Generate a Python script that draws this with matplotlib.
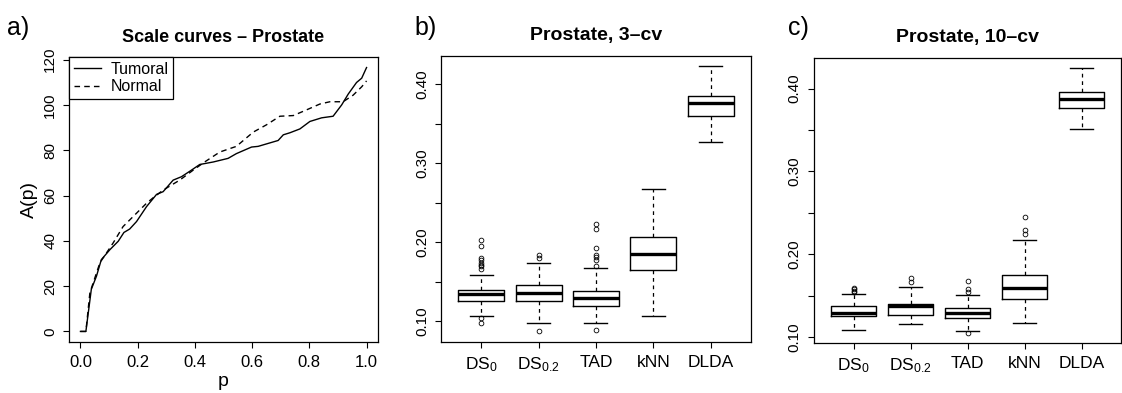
import matplotlib

matplotlib.use("Agg")
import matplotlib.pyplot as plt  # noqa: E402

plt.rcParams["font.family"] = ["Liberation Sans", "DejaVu Sans"]
plt.rcParams["mathtext.default"] = "regular"

# panel a: scale curves
tumoral_p = [0.0, 0.019, 0.038, 0.056, 0.073, 0.103, 0.132, 0.152, 0.172, 0.196,
             0.231, 0.266, 0.289, 0.324, 0.353, 0.382, 0.417, 0.464, 0.516, 0.545,
             0.598, 0.621, 0.691, 0.709, 0.732, 0.767, 0.802, 0.843, 0.883, 0.913,
             0.936, 0.965, 0.983, 1.0]
tumoral_a = [0, 0, 18.6, 24.4, 31.7, 36.1, 39.8, 43.7, 45.2, 48.5,
             55.1, 60.5, 61.7, 66.8, 68.3, 70.7, 73.7, 74.8, 76.4, 78.5,
             81.4, 81.7, 84.3, 86.8, 87.7, 89.4, 92.7, 94.3, 95.0, 100.0,
             104.8, 109.9, 111.8, 116.5]
normal_p = [0.0, 0.019, 0.033, 0.068, 0.114, 0.149, 0.196, 0.231, 0.254, 0.289,
            0.347, 0.394, 0.434, 0.487, 0.545, 0.604, 0.650, 0.697, 0.744, 0.790,
            0.837, 0.872, 0.918, 0.953, 0.983, 1.0]
normal_a = [0, 0, 17.1, 30.3, 39.0, 46.3, 52.2, 56.6, 59.0, 62.4,
            66.8, 71.2, 74.8, 79.2, 81.7, 88.0, 91.2, 95.0, 95.3, 97.8,
            100.4, 101.4, 101.4, 104.3, 108.0, 110.6]

methods = ["DS$_0$", "DS$_{0.2}$", "TAD", "kNN", "DLDA"]

# panel b: 3-cv error rates
b_q1 = [0.126, 0.126, 0.1202, 0.1648, 0.3596]
b_med = [0.1353, 0.1362, 0.130, 0.185, 0.3772]
b_q3 = [0.140, 0.1459, 0.1391, 0.2064, 0.3848]
b_lo = [0.1067, 0.0983, 0.0983, 0.1067, 0.3276]
b_hi = [0.1589, 0.174, 0.1673, 0.268, 0.423]
b_fliers = [
    [0.2035, 0.195, 0.180, 0.1774, 0.174, 0.172, 0.170, 0.1665, 0.1046, 0.0983],
    [0.1837, 0.180, 0.0878],
    [0.2237, 0.217, 0.193, 0.1846, 0.1816, 0.178, 0.170, 0.0886],
    [],
    [],
]

# panel c: 10-cv error rates
c_q1 = [0.1253, 0.1269, 0.1233, 0.1465, 0.3764]
c_med = [0.1289, 0.1373, 0.1285, 0.1594, 0.3872]
c_q3 = [0.1373, 0.1401, 0.1353, 0.1754, 0.3964]
c_lo = [0.1084, 0.1152, 0.1068, 0.1172, 0.3515]
c_hi = [0.1521, 0.1606, 0.1505, 0.2175, 0.4245]
c_fliers = [
    [0.1594, 0.1574, 0.1554, 0.1542],
    [0.1714, 0.1666],
    [0.1674, 0.1582, 0.1542, 0.1052],
    [0.2448, 0.2296, 0.2243],
    [],
]

box_ticks = [0.10, 0.15, 0.20, 0.25, 0.30, 0.35, 0.40]
box_ticklabels = ["0.10", "", "0.20", "", "0.30", "", "0.40"]


def r_range(lo, hi):
    # R-style 4% padding of the data range
    pad = 0.04 * (hi - lo)
    return lo - pad, hi + pad


def style_axes(ax):
    for sp in ax.spines.values():
        sp.set_linewidth(0.9)
    ax.tick_params(axis="both", direction="out", length=4.5, width=0.8,
                   labelsize=11, pad=4)
    ax.tick_params(axis="y", labelrotation=90, labelsize=11)
    for lab in ax.get_yticklabels():
        lab.set_va("center")


def draw_boxes(ax, q1, med, q3, lo, hi, fliers, title):
    stats = []
    for i in range(len(methods)):
        stats.append({"q1": q1[i], "med": med[i], "q3": q3[i],
                      "whislo": lo[i], "whishi": hi[i], "fliers": fliers[i]})
    ax.bxp(stats, positions=range(1, len(methods) + 1), widths=0.8,
           boxprops=dict(color="black", linewidth=1.0),
           medianprops=dict(color="black", linewidth=2.4),
           whiskerprops=dict(color="black", linewidth=0.9, linestyle=(0, (3, 3))),
           capprops=dict(color="black", linewidth=1.0),
           flierprops=dict(marker="o", markersize=3.4, markerfacecolor="none",
                           markeredgecolor="black", markeredgewidth=0.6))
    all_vals = lo + hi + [v for f in fliers for v in f]
    ax.set_ylim(*r_range(min(all_vals), max(all_vals)))
    ax.set_xlim(0.3, len(methods) + 0.7)
    ax.set_xticks(range(1, len(methods) + 1))
    ax.set_xticklabels(methods)
    ax.set_yticks(box_ticks)
    ax.set_yticklabels(box_ticklabels)
    ax.set_title(title, fontsize=14, fontweight="bold", pad=11)
    style_axes(ax)
    ax.tick_params(axis="x", labelsize=12.5, pad=5)


fig = plt.figure(figsize=(11.22, 3.93), dpi=100)
ax_a = fig.add_axes([0.0615, 0.1298, 0.2754, 0.7252])
ax_b = fig.add_axes([0.3930, 0.1305, 0.2763, 0.7277])
ax_c = fig.add_axes([0.7252, 0.1265, 0.2743, 0.7267])

ax_a.plot(tumoral_p, tumoral_a, color="black", linewidth=1.0, label="Tumoral")
ax_a.plot(normal_p, normal_a, color="black", linewidth=1.0,
          linestyle=(0, (4, 3)), label="Normal")
ax_a.set_xlim(*r_range(0.0, 1.0))
ax_a.set_ylim(*r_range(0.0, max(tumoral_a + normal_a)))
ax_a.set_xticks([0.0, 0.2, 0.4, 0.6, 0.8, 1.0])
ax_a.set_xticklabels(["0.0", "0.2", "0.4", "0.6", "0.8", "1.0"])
ax_a.set_yticks([0, 20, 40, 60, 80, 100, 120])
ax_a.set_xlabel("p", fontsize=14, labelpad=2)
ax_a.set_ylabel("A(p)", fontsize=14, labelpad=4)
ax_a.set_title("Scale curves \u2013 Prostate", fontsize=13, fontweight="bold", pad=11)
style_axes(ax_a)
ax_a.tick_params(axis="x", labelsize=12, pad=5)
leg = ax_a.legend(loc="upper left", borderaxespad=0, fancybox=False,
                  edgecolor="black", framealpha=1, fontsize=11.5,
                  handlelength=1.7, handletextpad=0.6, borderpad=0.3,
                  labelspacing=0.15)
leg.get_frame().set_linewidth(0.9)

draw_boxes(ax_b, b_q1, b_med, b_q3, b_lo, b_hi, b_fliers, "Prostate, 3\u2013cv")
draw_boxes(ax_c, c_q1, c_med, c_q3, c_lo, c_hi, c_fliers, "Prostate, 10\u2013cv")

fig.text(0.006, 0.96, "a)", fontsize=18, va="top")
fig.text(0.369, 0.96, "b)", fontsize=18, va="top")
fig.text(0.702, 0.96, "c)", fontsize=18, va="top")

fig.savefig("out.png", dpi=100, facecolor="white")
